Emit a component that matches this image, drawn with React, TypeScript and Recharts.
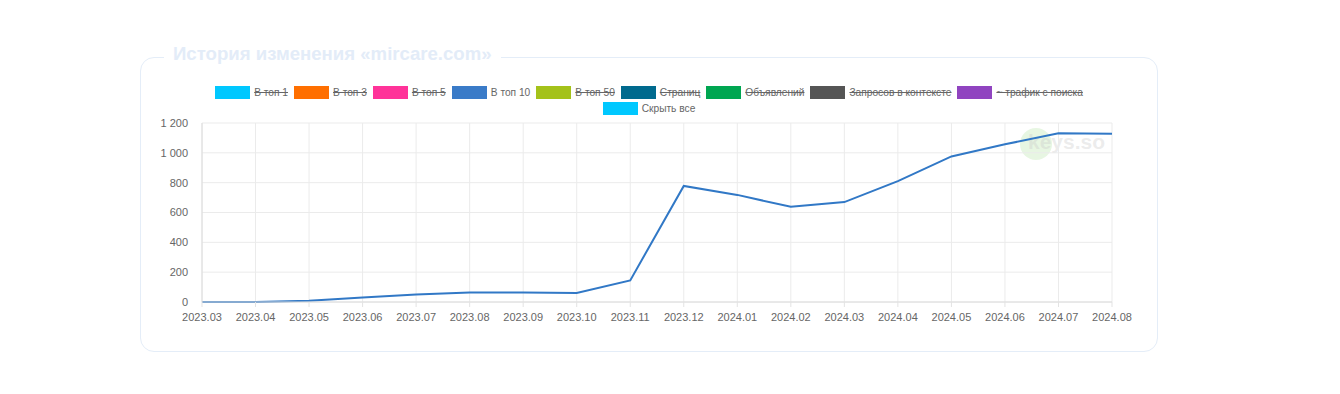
import { CartesianGrid, Line, LineChart, XAxis, YAxis } from "recharts";

const months = [
  "2023.03", "2023.04", "2023.05", "2023.06", "2023.07", "2023.08",
  "2023.09", "2023.10", "2023.11", "2023.12", "2024.01", "2024.02",
  "2024.03", "2024.04", "2024.05", "2024.06", "2024.07", "2024.08",
];

const top10 = [
  0, 0, 8, 30, 50, 63, 63, 60, 145, 778, 718, 638, 670, 810, 976, 1057, 1131, 1128,
];

const yTicks = [0, 200, 400, 600, 800, 1000, 1200];

const legendItems = [
  { name: "В топ 1", color: "#00c8ff", hidden: true },
  { name: "В топ 3", color: "#ff6f00", hidden: true },
  { name: "В топ 5", color: "#ff3399", hidden: true },
  { name: "В топ 10", color: "#3a7bc8", hidden: false },
  { name: "В топ 50", color: "#a4c21a", hidden: true },
  { name: "Страниц", color: "#006a8e", hidden: true },
  { name: "Объявлений", color: "#00a651", hidden: true },
  { name: "Запросов в контексте", color: "#555555", hidden: true },
  { name: "~ трафик с поиска", color: "#9044c0", hidden: true },
];

const hideAll = { name: "Скрыть все", color: "#00c8ff", hidden: false };

const chartData = months.map((m, i) => ({ month: m, top10: top10[i] }));

const font = "'Liberation Sans', Arial, Helvetica, sans-serif";

const fmt = (v: number) => String(v).replace(/\B(?=(\d{3})+(?!\d))/g, " ");

const LegendItem = ({ item }: { item: { name: string; color: string; hidden: boolean } }) => (
  <div style={{ display: "flex", alignItems: "center", marginRight: 6 }}>
    <div
      style={{
        width: 35,
        height: 13,
        background: item.color,
        marginRight: 4,
      }}
    />
    <span
      style={{
        fontSize: 10.2,
        color: "#666",
        textDecoration: item.hidden ? "line-through" : "none",
      }}
    >
      {item.name}
    </span>
  </div>
);

export default function App() {
  return (
    <div
      style={{
        position: "absolute",
        left: 0,
        top: 0,
        width: 1340,
        height: 394,
        background: "#fff",
        fontFamily: font,
        overflow: "hidden",
      }}
    >
      <div
        style={{
          position: "absolute",
          left: 140,
          top: 57,
          width: 1016,
          height: 293,
          border: "1.5px solid #e4edf8",
          borderRadius: 14,
        }}
      />
      <div
        style={{
          position: "absolute",
          left: 164,
          top: 41,
          padding: "0 9px",
          background: "#fff",
          fontSize: 18.6,
          fontWeight: 700,
          color: "#e3ecf8",
          lineHeight: "26px",
        }}
      >
        История изменения «mircare.com»
      </div>
      <div
        style={{
          position: "absolute",
          left: 140,
          top: 86,
          width: 1018,
          display: "flex",
          justifyContent: "center",
          paddingLeft: 6,
          boxSizing: "border-box",
        }}
      >
        {legendItems.map((it) => (
          <LegendItem key={it.name} item={it} />
        ))}
      </div>
      <div
        style={{
          position: "absolute",
          left: 140,
          top: 102,
          width: 1018,
          display: "flex",
          justifyContent: "center",
          paddingLeft: 6,
          boxSizing: "border-box",
        }}
      >
        <LegendItem item={hideAll} />
      </div>
      <div
        style={{
          position: "absolute",
          left: 1020,
          top: 128,
          width: 32,
          height: 32,
          borderRadius: 16,
          background: "rgba(160,220,140,0.25)",
        }}
      />
      <div
        style={{
          position: "absolute",
          left: 1028,
          top: 130,
          fontSize: 21,
          color: "rgba(200,200,200,0.35)",
          fontWeight: 700,
        }}
      >
        keys.so
      </div>
      <div style={{ position: "absolute", left: 140, top: 115 }}>
        <LineChart
          width={1018}
          height={220}
          data={chartData}
          margin={{ top: 8, right: 46, bottom: 3, left: 12 }}
        >
          <CartesianGrid stroke="#ebebeb" />
          <XAxis
            dataKey="month"
            height={30}
            interval={0}
            tick={{ fontSize: 11, fill: "#666", fontFamily: font }}
            tickLine={{ stroke: "#e3e3e3" }}
            axisLine={{ stroke: "#dcdcdc" }}
            tickSize={5}
            tickMargin={6}
          />
          <YAxis
            width={50}
            domain={[0, 1200]}
            ticks={yTicks}
            tickFormatter={fmt}
            tick={{ fontSize: 11, fill: "#666", fontFamily: font }}
            tickLine={false}
            axisLine={{ stroke: "#dcdcdc" }}
            tickMargin={8}
          />
          <Line
            type="linear"
            dataKey="top10"
            stroke="#3178c6"
            strokeWidth={2}
            dot={false}
            isAnimationActive={false}
          />
        </LineChart>
      </div>
    </div>
  );
}
